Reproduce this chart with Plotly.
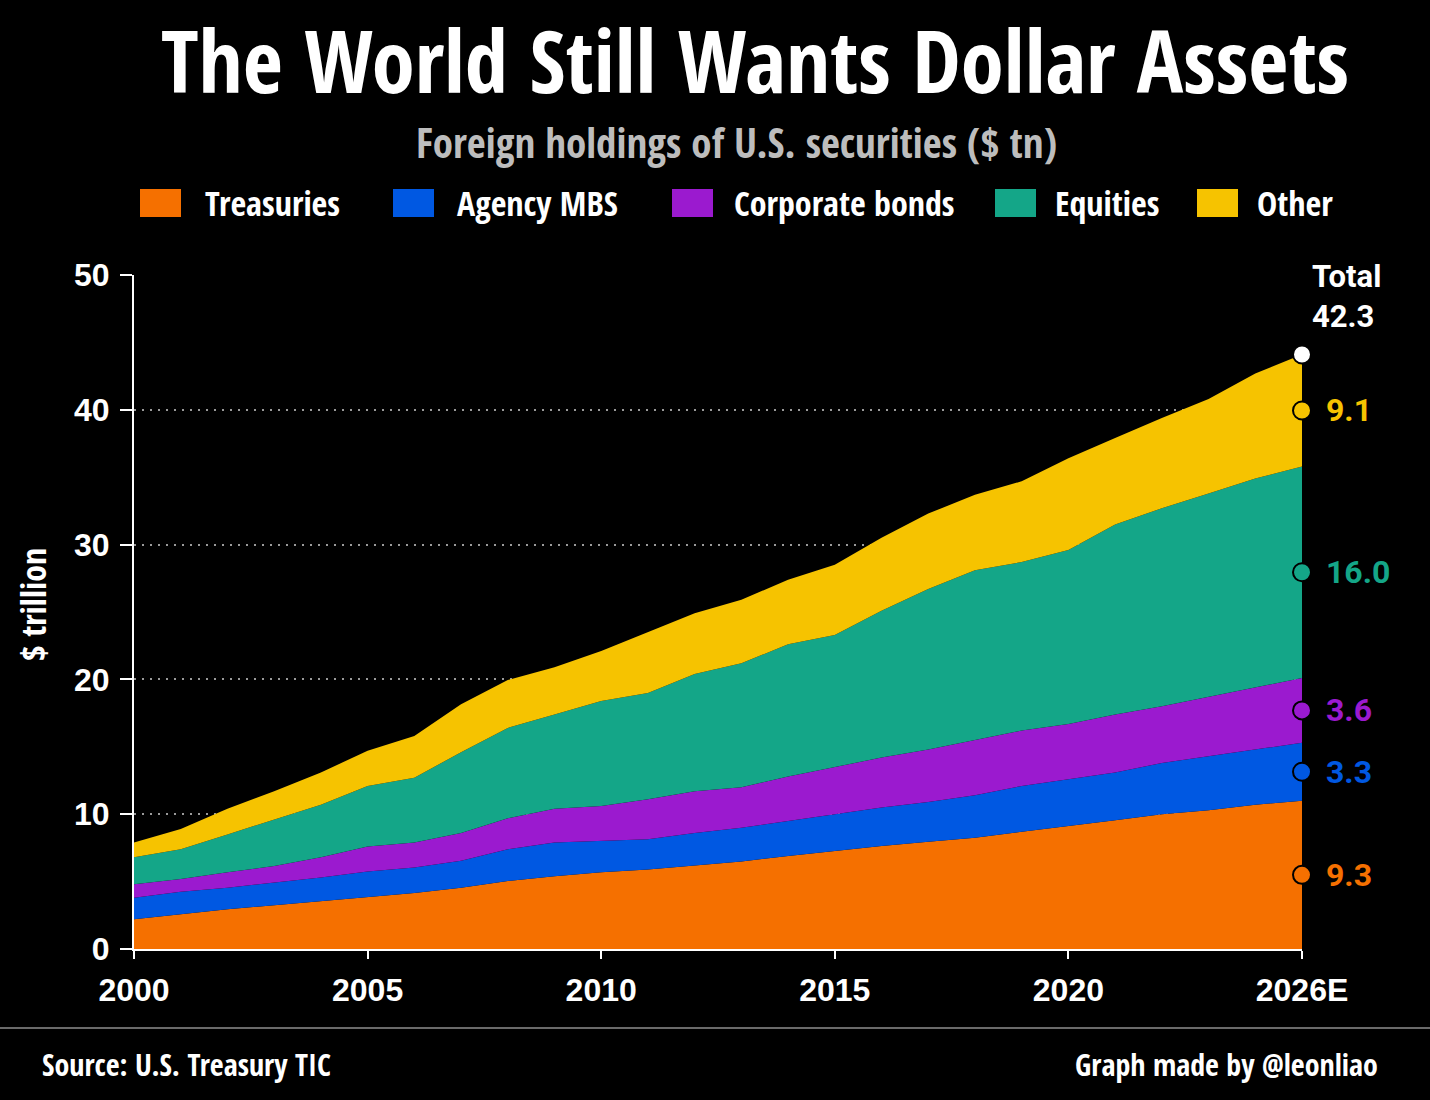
import plotly.graph_objects as go

# ---------------- data ----------------
years = list(range(2000, 2026))
treasuries = [2.2, 2.6, 2.95, 3.25, 3.55, 3.85, 4.15, 4.55, 5.05, 5.4, 5.7, 5.9, 6.2,
              6.5, 6.9, 7.3, 7.65, 7.95, 8.25, 8.7, 9.1, 9.55, 10.0, 10.3, 10.7, 11.0]
agency_mbs = [1.6, 1.65, 1.6, 1.65, 1.75, 1.9, 1.9, 2.0, 2.35, 2.5, 2.3, 2.25, 2.4,
              2.5, 2.6, 2.7, 2.85, 2.95, 3.15, 3.4, 3.5, 3.55, 3.8, 4.0, 4.1, 4.3]
corporate = [1.0, 0.95, 1.15, 1.25, 1.5, 1.85, 1.85, 2.05, 2.3, 2.5, 2.6, 2.95, 3.1,
             3.0, 3.3, 3.5, 3.7, 3.9, 4.1, 4.1, 4.1, 4.3, 4.2, 4.4, 4.6, 4.8]
equities = [2.0, 2.2, 2.8, 3.45, 3.9, 4.5, 4.8, 6.0, 6.7, 7.0, 7.8, 7.9, 8.7,
            9.2, 9.8, 9.8, 10.9, 11.9, 12.6, 12.5, 12.9, 14.1, 14.7, 15.1, 15.5, 15.7]
other = [1.1, 1.5, 1.9, 2.1, 2.4, 2.6, 3.1, 3.55, 3.55, 3.5, 3.7, 4.5, 4.5,
         4.7, 4.8, 5.2, 5.4, 5.6, 5.6, 6.0, 6.8, 6.4, 6.7, 7.0, 7.8, 8.3]

series_names = ["Treasuries", "Agency MBS", "Corporate bonds", "Equities", "Other"]
end_labels = ["9.3", "3.3", "3.6", "16.0", "9.1"]
total_label = "42.3"
x_tickvals = [2000, 2005, 2010, 2015, 2020, 2025]
x_ticktext = ["2000", "2005", "2010", "2015", "2020", "2026E"]
y_tickvals = [0, 10, 20, 30, 40, 50]

colors = ["#F57000", "#0058E2", "#9B1ACF", "#14A688", "#F6C300"]
series = [treasuries, agency_mbs, corporate, equities, other]

COND = "Open Sans Condensed, Roboto Condensed, sans-serif"
WIDE = "Liberation Sans, Arial, sans-serif"
LAB = "Roboto, Liberation Sans, sans-serif"

W, H = 1430, 1100
L, R, T, B = 134, 128, 275, 151
PW, PH = W - L - R, H - T - B


def px(xp):
    return (xp - L) / PW


def py(yp):
    return (H - B - yp) / PH


fig = go.Figure()

for name, vals, col in zip(series_names, series, colors):
    fig.add_trace(go.Scatter(
        x=years, y=vals, name=name, stackgroup="one", mode="lines",
        line=dict(width=0, color=col), fillcolor=col, showlegend=False,
        hoverinfo="x+y+name"))

# end markers at band midpoints
last = len(years) - 1
base = 0.0
mids = []
for vals in series:
    mids.append(base + vals[last] / 2)
    base += vals[last]
total = base

fig.add_trace(go.Scatter(
    x=[years[last]] * len(mids), y=mids, mode="markers", showlegend=False,
    marker=dict(size=18, color=colors, line=dict(color="black", width=2)),
    cliponaxis=False, hoverinfo="skip"))
fig.add_trace(go.Scatter(
    x=[years[last]], y=[total], mode="markers", showlegend=False,
    marker=dict(size=18, color="white", line=dict(color="black", width=2)),
    cliponaxis=False, hoverinfo="skip"))

annotations = []
for m, lab, col in zip(mids, end_labels, colors):
    annotations.append(dict(
        x=years[last], y=m, xref="x", yref="y", text=f"<b>{lab}</b>",
        showarrow=False, xanchor="left", yanchor="middle", xshift=22,
        font=dict(family=LAB, size=32, color=col)))
annotations.append(dict(
    x=years[last], y=total, xref="x", yref="y", text=f"<b>Total<br>{total_label}</b>",
    showarrow=False, xanchor="left", yanchor="bottom", xshift=8, yshift=18,
    align="left", font=dict(family=LAB, size=31, color="white")))

# title & subtitle
annotations.append(dict(
    x=px(755), y=py(59), xref="paper", yref="paper",
    text="<b>The World Still Wants Dollar Assets</b>", showarrow=False,
    xanchor="center", yanchor="middle",
    font=dict(family=COND, size=87, color="white")))
annotations.append(dict(
    x=px(736), y=py(142), xref="paper", yref="paper",
    text="<b>Foreign holdings of U.S. securities ($ tn)</b>", showarrow=False,
    xanchor="center", yanchor="middle",
    font=dict(family=COND, size=41, color="#BDBDBD")))

# custom legend
legend_pos = [(140, 203), (393, 455), (672, 732), (995, 1053), (1197, 1255)]
shapes = []
for (sx, tx), name, col in zip(legend_pos, series_names, colors):
    shapes.append(dict(type="rect", xref="paper", yref="paper",
                       x0=px(sx), x1=px(sx + 41), y0=py(217), y1=py(189),
                       fillcolor=col, line=dict(width=0)))
    annotations.append(dict(
        x=px(tx), y=py(203), xref="paper", yref="paper", text=f"<b>{name}</b>",
        showarrow=False, xanchor="left", yanchor="middle",
        font=dict(family=COND, size=34, color="white")))

# y-axis title
annotations.append(dict(
    x=px(33), y=py(605), xref="paper", yref="paper", text="<b>$ trillion</b>",
    showarrow=False, textangle=-90, xanchor="center", yanchor="middle",
    font=dict(family=COND, size=34, color="white")))

# footer
shapes.append(dict(type="line", xref="paper", yref="paper",
                   x0=px(0), x1=px(W), y0=py(1028), y1=py(1028),
                   line=dict(color="#6a6a6a", width=2)))
annotations.append(dict(
    x=px(40), y=py(1064), xref="paper", yref="paper",
    text="<b>Source: U.S. Treasury TIC</b>", showarrow=False,
    xanchor="left", yanchor="middle",
    font=dict(family=COND, size=30, color="white")))
annotations.append(dict(
    x=px(1380), y=py(1064), xref="paper", yref="paper",
    text="<b>Graph made by @leonliao</b>", showarrow=False,
    xanchor="right", yanchor="middle",
    font=dict(family=COND, size=30, color="white")))

fig.update_layout(
    width=W, height=H,
    margin=dict(l=L, r=R, t=T, b=B, pad=0),
    paper_bgcolor="black", plot_bgcolor="black",
    showlegend=False,
    annotations=annotations, shapes=shapes,
    xaxis=dict(range=[2000, 2025], tickvals=x_tickvals, ticktext=x_ticktext,
               showgrid=False, zeroline=False, showline=True, linecolor="white",
               linewidth=2, ticks="outside", ticklen=8, tickwidth=2,
               tickcolor="white", ticklabelstandoff=4,
               tickfont=dict(family=WIDE, size=32, color="white", weight="bold")),
    yaxis=dict(range=[0, 50], tickvals=y_tickvals, showgrid=True,
               gridcolor="#9a9a9a", gridwidth=1.5, griddash="2px,6px", zeroline=False,
               showline=True, linecolor="white", linewidth=2, ticks="outside",
               ticklen=12, tickwidth=2, tickcolor="white", ticklabelstandoff=4,
               tickfont=dict(family=WIDE, size=32, color="white", weight="bold")),
)

fig.write_html("out.html", config={"displayModeBar": False},
               post_script="document.body.style.margin='0';document.body.style.background='black';")
